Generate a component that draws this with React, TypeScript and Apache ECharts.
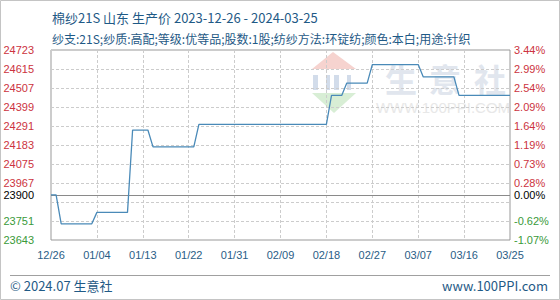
import React, { useEffect, useRef } from "react";
import * as echarts from "echarts";

// Cotton yarn 21S (Shandong) producer price, day-by-day change points
const startDate = "2023-12-26";
const priceDates = [
  "2023-12-26", "2023-12-27", "2023-12-28", "2024-01-03", "2024-01-04",
  "2024-01-10", "2024-01-11", "2024-01-14", "2024-01-15", "2024-01-23",
  "2024-01-24", "2024-02-18", "2024-02-19", "2024-02-21", "2024-02-22",
  "2024-02-26", "2024-02-27", "2024-03-07", "2024-03-08", "2024-03-14",
  "2024-03-15", "2024-03-25",
];
const prices = [
  23900, 23900, 23735, 23735, 23800,
  23800, 24268, 24268, 24172, 24172,
  24300, 24300, 24465, 24465, 24535,
  24535, 24640, 24640, 24570, 24570,
  24465, 24465,
];
const basePrice = 23900;
const xTickLabels = [
  "12/26", "01/04", "01/13", "01/22", "01/31", "02/09",
  "02/18", "02/27", "03/07", "03/16", "03/25",
];
const yGridValues = [
  23643, 23751, 23859, 23967, 24075, 24183, 24291, 24399, 24507, 24615, 24723,
];
const yLabelValues = [
  23643, 23751, 23900, 23967, 24075, 24183, 24291, 24399, 24507, 24615, 24723,
];
const percentLabels = [
  "-1.07%", "-0.62%", "0.00%", "0.28%", "0.73%", "1.19%",
  "1.64%", "2.09%", "2.54%", "2.99%", "3.44%",
];

const titleText = "棉纱21S 山东 生产价 2023-12-26 - 2024-03-25";
const subtitleText =
  "纱支:21S;纱质:高配;等级:优等品;股数:1股;纺纱方法:环锭纺;颜色:本白;用途:针织";

const DAY = 86400000;
const dayOffset = (d: string) =>
  Math.round((Date.parse(d + "T00:00:00Z") - Date.parse(startDate + "T00:00:00Z")) / DAY);

const UP = "#cc3340";
const DOWN = "#3a9a3a";
const levelColor = (v: number) =>
  v > basePrice ? UP : v < basePrice ? DOWN : "#000000";

const CJK = "'Noto Sans CJK SC', 'Noto Sans', sans-serif";
const NUM = "'Liberation Sans', Arial, sans-serif";

export default function App() {
  const ref = useRef<HTMLDivElement>(null);

  useEffect(() => {
    document.body.style.margin = "0";
    if (!ref.current) return;
    const chart = echarts.init(ref.current, undefined, { renderer: "svg" });

    const seriesData = priceDates.map((d, i) => [dayOffset(d), prices[i]]);
    const gridLines = yGridValues.map((v) => ({ yAxis: v }));
    const percentOf = (v: number) => {
      const i = yLabelValues.indexOf(Math.round(v));
      return i >= 0 ? percentLabels[i] : "";
    };

    chart.setOption({
      animation: false,
      backgroundColor: "#ffffff",
      grid: {
        left: 51,
        right: 50,
        top: 50,
        bottom: 60,
        show: true,
        borderColor: "#999999",
        borderWidth: 1,
      },
      title: [
        {
          text: titleText,
          left: 47,
          top: 6,
          textStyle: { fontFamily: CJK, fontSize: 13, fontWeight: "normal", color: "#1f5a86" },
        },
        {
          text: subtitleText,
          left: 47,
          top: 27,
          textStyle: { fontFamily: CJK, fontSize: 12, fontWeight: "normal", color: "#1f5a86" },
        },
      ],
      xAxis: {
        type: "value",
        min: 0,
        max: 90,
        interval: 9,
        axisLine: { show: false },
        axisTick: { show: false },
        splitLine: { show: true, lineStyle: { color: "#cccccc", type: [3, 2], width: 1 } },
        axisLabel: {
          margin: 9,
          fontFamily: NUM,
          fontSize: 11,
          color: "#2a5d86",
          formatter: (v: number) => xTickLabels[Math.round(v / 9)] ?? "",
        },
      },
      yAxis: [
        {
          type: "value",
          min: yGridValues[0],
          max: yGridValues[yGridValues.length - 1],
          position: "left",
          axisLine: { show: false },
          axisTick: { show: false },
          splitLine: { show: false },
          axisLabel: {
            customValues: yLabelValues,
            margin: 17,
            fontFamily: NUM,
            fontSize: 11,
            color: (v: any) => levelColor(Number(v)),
            formatter: (v: number) => String(Math.round(v)),
          },
        },
        {
          type: "value",
          min: yGridValues[0],
          max: yGridValues[yGridValues.length - 1],
          position: "right",
          axisLine: { show: false },
          axisTick: { show: false },
          splitLine: { show: false },
          axisLabel: {
            customValues: yLabelValues,
            margin: 4,
            fontFamily: NUM,
            fontSize: 11,
            color: (v: any) => levelColor(Number(v)),
            formatter: (v: number) => percentOf(v),
          },
        },
      ],
      series: [
        {
          type: "line",
          name: "grid",
          data: [],
          silent: true,
          markLine: {
            silent: true,
            symbol: "none",
            label: { show: false },
            lineStyle: { color: "#cccccc", type: [3, 2], width: 1 },
            data: gridLines,
          },
        },
        {
          type: "line",
          name: "price",
          data: seriesData,
          showSymbol: false,
          symbol: "none",
          lineStyle: { color: "#4a8ab8", width: 1.3 },
          z: 5,
          markLine: {
            silent: true,
            symbol: "none",
            label: { show: false },
            lineStyle: { color: "#8a8a8a", type: "solid", width: 1 },
            data: [{ yAxis: basePrice }],
          },
        },
      ],
      graphic: [
        // watermark logo
        {
          type: "group",
          silent: true,
          z: 0,
          children: [
            {
              type: "polygon",
              shape: { points: [[333, 52], [312, 69], [356, 69]] },
              style: { fill: "#f6d3cf" },
            },
            { type: "rect", shape: { x: 313, y: 75, width: 5, height: 15 }, style: { fill: "#d2dcea" } },
            { type: "rect", shape: { x: 326, y: 75, width: 4, height: 15 }, style: { fill: "#d2dcea" } },
            { type: "rect", shape: { x: 334, y: 75, width: 5, height: 15 }, style: { fill: "#d2dcea" } },
            { type: "rect", shape: { x: 347, y: 75, width: 4, height: 15 }, style: { fill: "#d2dcea" } },
            {
              type: "polygon",
              shape: { points: [[312, 93], [356, 93], [334, 113]] },
              style: { fill: "#d8eed5" },
            },
            {
              type: "text",
              style: { text: "生", x: 401, y: 78, fontSize: 32, fontFamily: CJK, fontWeight: "bold", fill: "#e1e6ee", align: "center", verticalAlign: "middle" },
            },
            {
              type: "text",
              style: { text: "意", x: 445, y: 78, fontSize: 32, fontFamily: CJK, fontWeight: "bold", fill: "#e1e6ee", align: "center", verticalAlign: "middle" },
            },
            {
              type: "text",
              style: { text: "社", x: 490, y: 78, fontSize: 32, fontFamily: CJK, fontWeight: "bold", fill: "#e1e6ee", align: "center", verticalAlign: "middle" },
            },
            {
              type: "text",
              style: { text: "WWW.100PPI.COM", x: 443, y: 107, fontSize: 15, fontFamily: NUM, fill: "#e8e8e8", align: "center", verticalAlign: "middle" },
            },
          ],
        },
        // footer separator
        {
          type: "line",
          silent: true,
          shape: { x1: 10, y1: 275.5, x2: 550, y2: 275.5 },
          style: { stroke: "#a0a0a0", lineWidth: 1 },
        },
        {
          type: "text",
          left: 10,
          top: 279,
          style: { text: "© 2024.07 生意社", fontFamily: CJK, fontSize: 13, fill: "#1f5a86" },
        },
        {
          type: "text",
          right: 12,
          top: 279,
          style: { text: "www.100PPI.com", fontFamily: CJK, fontSize: 13, fill: "#1f5a86" },
        },
        // outer frame
        {
          type: "rect",
          silent: true,
          shape: { x: 0.5, y: 0.5, width: 559, height: 299 },
          style: { fill: "none", stroke: "#c4c4c4", lineWidth: 1 },
        },
      ],
    });

    return () => chart.dispose();
  }, []);

  return <div ref={ref} style={{ width: 560, height: 300 }} />;
}
